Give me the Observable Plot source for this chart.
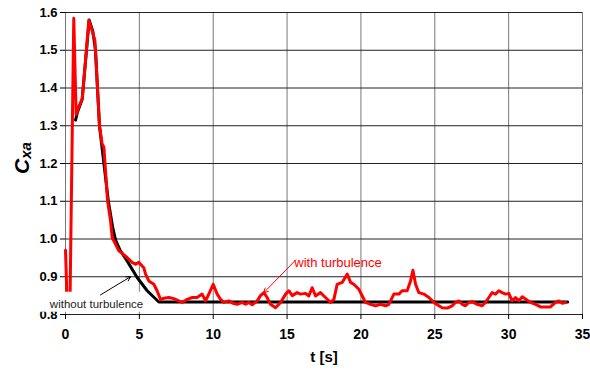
<!DOCTYPE html>
<html>
<head>
<meta charset="utf-8">
<script src="https://cdn.jsdelivr.net/npm/d3@7"></script>
<script src="https://cdn.jsdelivr.net/npm/@observablehq/plot@0.6"></script>
<style>
  html, body { margin: 0; padding: 0; background: #fff; }
  svg { display: block; }
</style>
</head>
<body>
<div id="chart"></div>
<script>
// ---- data ----
const redT = [0, 0.12, 0.30, 0.56, 0.72, 0.90, 1.13, 1.35, 1.58, 1.80, 1.99, 2.14, 2.30, 2.48, 2.60, 2.85, 3.05, 3.16, 3.39, 3.61, 3.90, 4.17, 4.51, 4.74, 4.96, 5.30, 5.42, 5.64, 5.98, 6.20, 6.43, 6.66, 7.00, 7.33, 7.67, 7.90, 8.24, 8.58, 8.91, 9.25, 9.48, 9.70, 10.00, 10.27, 10.50, 10.72, 11.06, 11.40, 11.62, 11.96, 12.19, 12.41, 12.64, 12.98, 13.20, 13.43, 13.65, 13.88, 14.22, 14.56, 14.90, 15.12, 15.35, 15.68, 15.91, 16.25, 16.47, 16.70, 16.93, 17.26, 17.60, 17.94, 18.17, 18.39, 18.73, 19.07, 19.30, 19.52, 19.86, 20.09, 20.31, 20.65, 20.99, 21.33, 21.67, 21.89, 22.23, 22.57, 22.79, 23.13, 23.36, 23.52, 23.70, 23.92, 24.26, 24.60, 24.94, 25.20, 25.50, 25.84, 26.18, 26.40, 26.63, 26.85, 27.08, 27.30, 27.53, 27.87, 28.21, 28.43, 28.66, 28.88, 29.11, 29.34, 29.56, 29.79, 30.01, 30.24, 30.46, 30.69, 30.92, 31.14, 31.48, 31.82, 32.16, 32.50, 32.83, 33.17, 33.40, 33.63, 33.85];
const redV = [0.970, 0.820, 0.820, 1.585, 1.330, 1.350, 1.371, 1.470, 1.579, 1.552, 1.526, 1.420, 1.300, 1.252, 1.243, 1.100, 1.048, 1.004, 0.986, 0.969, 0.960, 0.951, 0.938, 0.933, 0.938, 0.924, 0.907, 0.889, 0.880, 0.863, 0.840, 0.843, 0.845, 0.842, 0.836, 0.832, 0.840, 0.845, 0.845, 0.854, 0.836, 0.854, 0.880, 0.854, 0.840, 0.832, 0.836, 0.829, 0.827, 0.832, 0.827, 0.832, 0.826, 0.836, 0.850, 0.858, 0.845, 0.827, 0.818, 0.832, 0.854, 0.863, 0.850, 0.858, 0.854, 0.856, 0.849, 0.871, 0.849, 0.858, 0.845, 0.832, 0.840, 0.880, 0.885, 0.907, 0.885, 0.880, 0.867, 0.849, 0.832, 0.827, 0.823, 0.827, 0.823, 0.827, 0.854, 0.854, 0.863, 0.863, 0.889, 0.917, 0.880, 0.858, 0.854, 0.845, 0.832, 0.825, 0.818, 0.817, 0.823, 0.832, 0.836, 0.827, 0.823, 0.832, 0.834, 0.827, 0.823, 0.832, 0.845, 0.858, 0.854, 0.863, 0.858, 0.854, 0.856, 0.836, 0.845, 0.836, 0.847, 0.841, 0.832, 0.827, 0.820, 0.820, 0.820, 0.832, 0.836, 0.830, 0.832];

const blackT = [0.68, 0.80, 1.13, 1.60, 1.85, 2.03, 2.30, 2.60, 2.90, 3.20, 3.39, 3.70, 4.17, 4.85, 5.53, 6.32, 34.0];
const blackV = [1.315, 1.335, 1.370, 1.580, 1.550, 1.500, 1.300, 1.200, 1.100, 1.030, 0.997, 0.970, 0.942, 0.898, 0.863, 0.833, 0.833];

const xTicks = [0, 5, 10, 15, 20, 25, 30, 35];
const yTicks = [0.8, 0.9, 1.0, 1.1, 1.2, 1.3, 1.4, 1.5, 1.6];

const xLabel = "t [s]";
const yLabelMain = "C";
const yLabelSub = "xa";

// annotations (data units)
const annWith = {t: 18.45, v: 0.937, label: "with turbulence", t1: 15.6, v1: 0.945, t2: 13.43, v2: 0.858};
const annWithout = {t: 2.1, v: 0.827, label: "without turbulence", t1: 2.37, v1: 0.852, t2: 4.4, v2: 0.900};
// white backing box of the "without turbulence" label (data units)
const annBox = {t1: -2.3, t2: 5.5, v1: 0.806, v2: 0.859};

// ---- build tables ----
const red = redT.map((t, i) => ({t, v: redV[i]}));
const black = blackT.map((t, i) => ({t, v: blackV[i]}));

const chart = Plot.plot({
  width: 590,
  height: 371,
  marginLeft: 65,
  marginRight: 8,
  marginTop: 12,
  marginBottom: 57,
  style: {fontFamily: "Arial, 'Liberation Sans', sans-serif", fontSize: "13px", fontWeight: "bold", background: "#fff", color: "#000", overflow: "visible"},
  x: {domain: [0, 35]},
  y: {domain: [0.8, 1.6]},
  marks: [
    Plot.gridX(xTicks, {stroke: "#777", strokeOpacity: 1}),
    Plot.gridY(yTicks, {stroke: "#222", strokeOpacity: 1}),
    Plot.axisY({ticks: yTicks, tickSize: 5, tickPadding: 3, tickFormat: d3.format(".1f"), label: null, fontSize: 13, fontWeight: "bold"}),
    Plot.axisX({ticks: xTicks, tickSize: 5, tickPadding: 10, label: null, fontSize: 14, fontWeight: "bold"}),
    Plot.line(black, {x: "t", y: "v", stroke: "#000", strokeWidth: 3}),
    Plot.line(red, {x: "t", y: "v", stroke: "#ff0000", strokeWidth: 3, strokeLinejoin: "round"}),
    Plot.rect([annBox], {x1: "t1", x2: "t2", y1: "v1", y2: "v2", fill: "#fff", clip: false}),
    Plot.text([annWithout], {x: "t", y: "v", text: "label", fill: "#222", fontSize: 11.5, fontWeight: "normal"}),
    Plot.arrow([annWithout], {x1: "t1", y1: "v1", x2: "t2", y2: "v2", stroke: "#000", strokeWidth: 1, headLength: 7}),
    Plot.text([annWith], {x: "t", y: "v", text: "label", fill: "#ff0000", fontSize: 13, fontWeight: "normal"}),
    Plot.arrow([annWith], {x1: "t1", y1: "v1", x2: "t2", y2: "v2", stroke: "#ff0000", strokeWidth: 1, headLength: 7}),
    Plot.text([xLabel], {frameAnchor: "bottom", dy: 47, text: d => d, fontSize: 15, fontWeight: "bold"})
  ]
});

document.getElementById("chart").appendChild(chart);

const svg = d3.select(chart);

// y-axis label with subscript
const yl = svg.append("text")
  .attr("transform", "translate(29,158) rotate(-90)")
  .attr("text-anchor", "middle")
  .style("font-family", "Arial, 'Liberation Sans', sans-serif")
  .style("font-weight", "bold")
  .style("font-style", "italic")
  .attr("fill", "#000");
yl.append("tspan").attr("font-size", 21).text(yLabelMain);
yl.append("tspan").attr("font-size", 15).attr("dy", 2).text(yLabelSub);
</script>
</body>
</html>
